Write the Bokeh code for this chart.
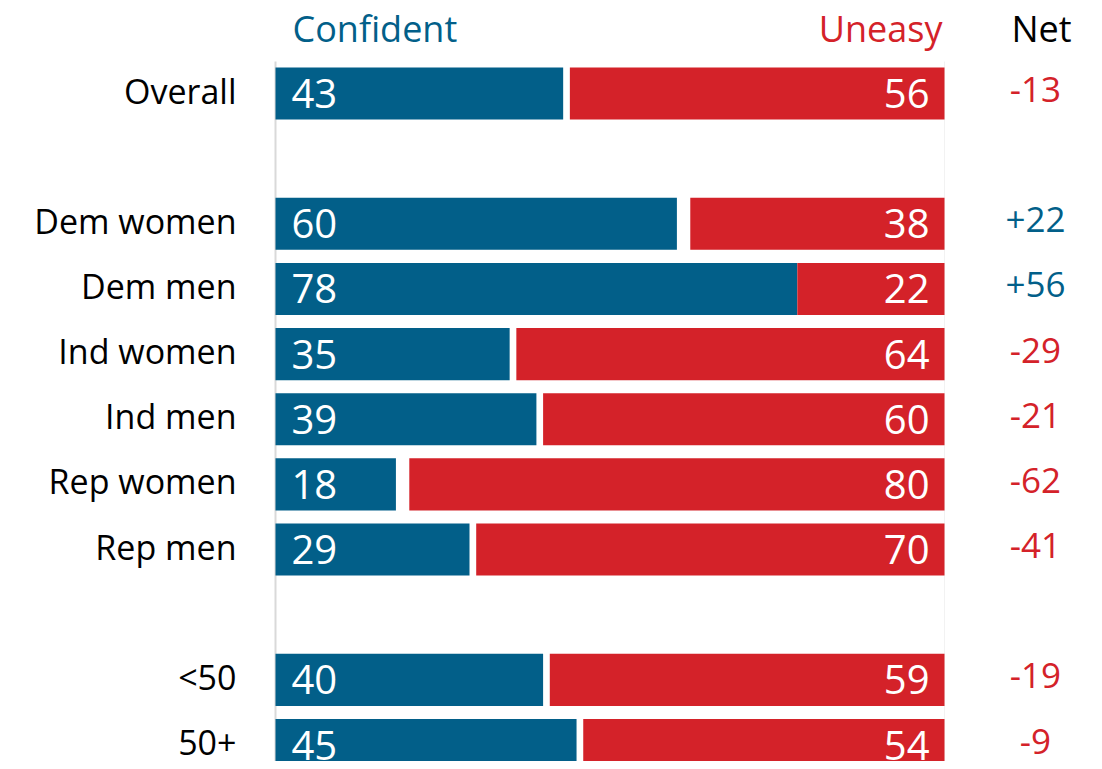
from bokeh.plotting import figure
from bokeh.models import Range1d, ColumnDataSource
from bokeh.core.properties import value
from bokeh.embed import file_html
from bokeh.resources import INLINE

# ---- data ----
categories = ["Overall", "Dem women", "Dem men", "Ind women", "Ind men",
              "Rep women", "Rep men", "<50", "50+"]
groups = [0, 1, 1, 1, 1, 1, 1, 2, 2]
confident = [43, 60, 78, 35, 39, 18, 29, 40, 45]
uneasy = [56, 38, 22, 64, 60, 80, 70, 59, 54]
net = [-13, 22, 56, -29, -21, -62, -41, -19, -9]

BLUE = "#025F89"
RED = "#D42229"
FONT = "Open Sans"

# layout
rows = [i + g for i, g in enumerate(groups)]
W, H = 1094, 761
px_per_unit = 6.69
x0_px = 275
row_px = 65.15
top_row = -93 / row_px

src = ColumnDataSource(dict(
    cat=categories,
    y=rows,
    conf=confident,
    uneasy_left=[100 - u for u in uneasy],
    uneasy=uneasy,
    conf_txt=[str(c) for c in confident],
    uneasy_txt=[str(u) for u in uneasy],
    net_txt=[("+%d" % n) if n > 0 else str(n) for n in net],
    net_col=[BLUE if n > 0 else RED for n in net],
    zero=[0] * len(rows),
    hundred=[100] * len(rows),
    netx=[113.6] * len(rows),
))

p = figure(width=W, height=H, output_backend="svg", toolbar_location=None,
           x_range=Range1d(-x0_px / px_per_unit, (W - x0_px) / px_per_unit),
           y_range=Range1d(top_row + H / row_px, top_row),
           min_border=0)
p.axis.visible = False
p.grid.visible = False
p.outline_line_color = None
p.background_fill_color = "white"

ybot = top_row + H / row_px
# vertical guide lines
p.segment(x0=[0], y0=[-0.49], x1=[0], y1=[ybot], line_color="#d9d9d9", line_width=2)
p.segment(x0=[100], y0=[-0.49], x1=[100], y1=[ybot], line_color="#f2f2f2", line_width=1)

# bars
p.hbar(y="y", left="zero", right="conf", height=0.8, source=src,
       fill_color=BLUE, line_color=None)
p.hbar(y="y", left="uneasy_left", right="hundred", height=0.8, source=src,
       fill_color=RED, line_color=None)

# values in bars
p.text(x="zero", y="y", text="conf_txt", source=src, x_offset=16, y_offset=0,
       text_align="left", text_baseline="middle", text_color="white",
       text_font=value(FONT), text_font_size="40px")
p.text(x="hundred", y="y", text="uneasy_txt", source=src, x_offset=-15, y_offset=0,
       text_align="right", text_baseline="middle", text_color="white",
       text_font=value(FONT), text_font_size="40px")

# category labels
p.text(x="zero", y="y", text="cat", source=src, x_offset=-39, y_offset=-3,
       text_align="right", text_baseline="middle", text_color="black",
       text_font=value(FONT), text_font_size="34px")

# net values
p.text(x="netx", y="y", text="net_txt", source=src, text_color="net_col",
       y_offset=-4, text_align="center", text_baseline="middle",
       text_font=value(FONT), text_font_size="35px")

# headers
p.text(x=[0], y=[-1.0], text=["Confident"], x_offset=17, text_align="left",
       text_baseline="middle", text_color=BLUE, text_font=value(FONT),
       text_font_size="36px")
p.text(x=[100], y=[-1.0], text=["Uneasy"], x_offset=-2, text_align="right",
       text_baseline="middle", text_color=RED, text_font=value(FONT),
       text_font_size="36px")
p.text(x=[114.5], y=[-1.0], text=["Net"], text_align="center",
       text_baseline="middle", text_color="black", text_font=value(FONT),
       text_font_size="36px")

open("out.html", "w").write(file_html(p, INLINE))
